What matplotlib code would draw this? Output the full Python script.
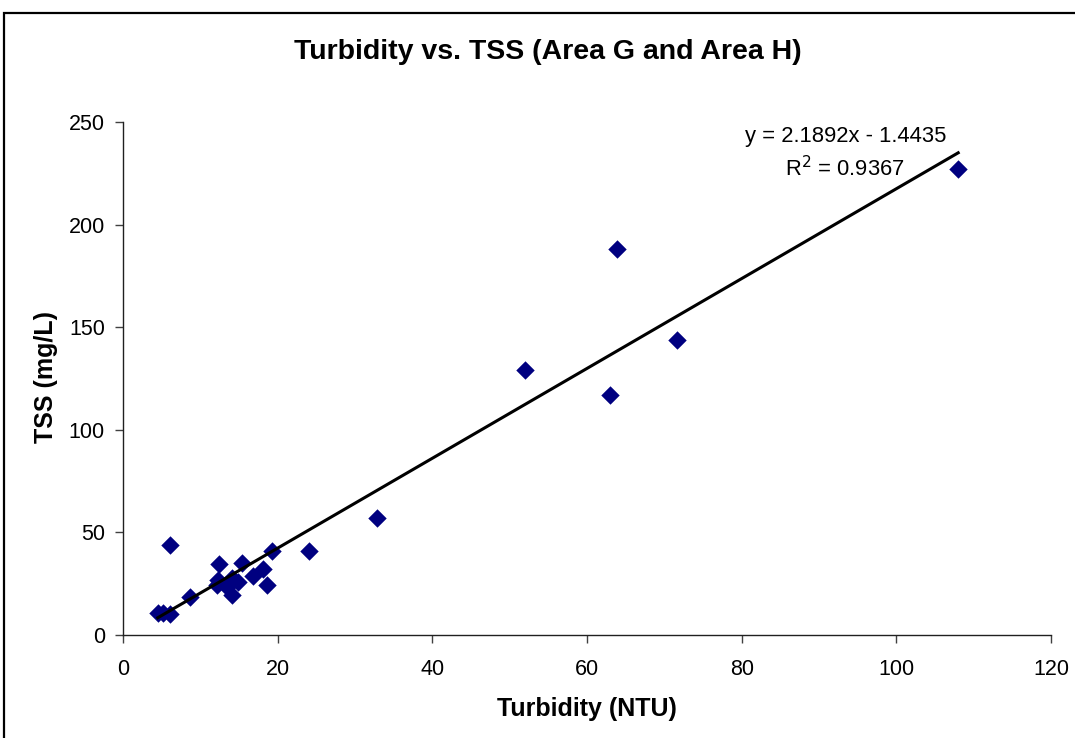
import matplotlib
matplotlib.use("Agg")
import matplotlib.pyplot as plt
from matplotlib.patches import Rectangle
import numpy as np

# turbidity (NTU) and TSS (mg/L)
turbidity = [4.5, 5.2, 6.1, 6.1, 8.6, 12.1, 12.3, 12.45, 13.4, 14.05, 14.05,
             14.9, 15.35, 16.85, 18.1, 18.6, 19.3, 24.1, 32.9, 52.0, 63.0,
             63.9, 71.6, 108.0]
tss = [10.5, 10.5, 10.0, 43.7, 18.7, 24.4, 26.8, 34.6, 23.6, 27.6, 19.5,
       26.0, 34.9, 28.8, 32.0, 24.5, 40.8, 40.7, 57.0, 129.0, 117.0,
       188.0, 144.0, 227.0]

slope, intercept, r2 = 2.1892, -1.4435, 0.9367
xticks = [0, 20, 40, 60, 80, 100, 120]
yticks = [0, 50, 100, 150, 200, 250]

plt.rcParams['font.family'] = ['Liberation Sans', 'DejaVu Sans']

fig = plt.figure(figsize=(10.75, 7.38), dpi=100)
ax = fig.add_axes([123 / 1075, 1 - 635 / 738, 928 / 1075, 513 / 738])

ax.scatter(turbidity, tss, marker='D', s=88, color='#000080', zorder=3,
           linewidths=0)

xs = np.array([min(turbidity), max(turbidity)])
ax.plot(xs, slope * xs + intercept, color='black', lw=2.2, zorder=4)

ax.text(93.4, 242.7, f"y = {slope}x - {abs(intercept)}", ha='center',
        va='center', fontsize=15.8)
ax.text(93.4, 227.5, f"R$^2$ = {r2}", ha='center', va='center',
        fontsize=15.8)

ax.set_xlim(0, 120)
ax.set_ylim(0, 250)
ax.set_xticks(xticks)
ax.set_yticks(yticks)
ax.tick_params(axis='both', direction='out', length=6, width=1,
               color='#404040', labelsize=15.5)
ax.tick_params(axis='x', pad=11)
ax.tick_params(axis='y', pad=7)
for side in ('top', 'right'):
    ax.spines[side].set_visible(False)
for side in ('left', 'bottom'):
    ax.spines[side].set_color('#202020')
    ax.spines[side].set_linewidth(1)

ax.set_xlabel("Turbidity (NTU)", fontsize=18, fontweight='bold')
ax.xaxis.set_label_coords(0.5, (635 - 697) / 513)
ax.set_ylabel("TSS (mg/L)", fontsize=18, fontweight='bold')
ax.yaxis.set_label_coords((58 - 123) / 928, 0.5 + (635 - 377 - 256.5) / 513)

fig.text(548 / 1075, 1 - 52 / 738, "Turbidity vs. TSS (Area G and Area H)",
         ha='center', va='center', fontsize=20.5, fontweight='bold')

# chart-area border (cropped on the right and bottom)
fig.patches.append(Rectangle((4 / 1075, -0.2), 1.5, 0.2 + 1 - 13 / 738,
                             transform=fig.transFigure, fill=False,
                             edgecolor='black', lw=1.6))

fig.savefig("out.png", dpi=100)
